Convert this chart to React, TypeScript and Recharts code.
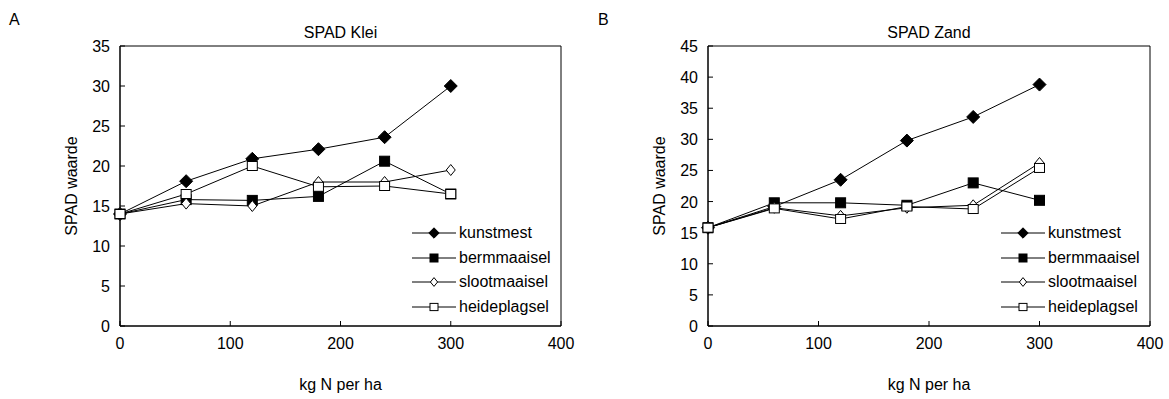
import React from "react";
import { LineChart, Line, XAxis, YAxis, ReferenceArea } from "recharts";

// ─── data ────────────────────────────────────────────────────────────────────

const doses = [0, 60, 120, 180, 240, 300];
const seriesNames = ["kunstmest", "bermmaaisel", "slootmaaisel", "heideplagsel"];

const kleiKunstmest = [14, 18.1, 20.9, 22.1, 23.6, 30];
const kleiBermmaaisel = [14, 15.8, 15.7, 16.2, 20.6, 16.5];
const kleiSlootmaaisel = [14, 15.3, 15.0, 18.0, 18.0, 19.5];
const kleiHeideplagsel = [14, 16.5, 20.0, 17.4, 17.5, 16.5];

const zandKunstmest = [15.8, 19.2, 23.5, 29.8, 33.6, 38.8];
const zandBermmaaisel = [15.8, 19.8, 19.8, 19.4, 23.0, 20.2];
const zandSlootmaaisel = [15.8, 19.0, 17.7, 19.0, 19.4, 26.2];
const zandHeideplagsel = [15.8, 18.9, 17.2, 19.2, 18.8, 25.4];

const xTicks = [0, 100, 200, 300, 400];
const kleiTicks = [0, 5, 10, 15, 20, 25, 30, 35];
const zandTicks = [0, 5, 10, 15, 20, 25, 30, 35, 40, 45];

const FONT = "'Liberation Sans', Arial, sans-serif";
const FS = 16;

function buildRows(a: number[], b: number[], c: number[], d: number[]) {
  return doses.map((x, i) => ({ x, s0: a[i], s1: b[i], s2: c[i], s3: d[i] }));
}

// ─── markers ─────────────────────────────────────────────────────────────────

function marker(kind: number, cx: number, cy: number, s = 1, key?: string | number) {
  if (kind === 0) {
    const r = 6.5 * s;
    return <polygon key={key} points={`${cx},${cy - r} ${cx + r},${cy} ${cx},${cy + r} ${cx - r},${cy}`} fill="#000" stroke="#000" />;
  }
  if (kind === 1) {
    const r = 5 * s;
    return <rect key={key} x={cx - r} y={cy - r} width={2 * r} height={2 * r} fill="#000" stroke="#000" />;
  }
  if (kind === 2) {
    const w = 4.5 * s;
    const h = 5.5 * s;
    return <polygon key={key} points={`${cx},${cy - h} ${cx + w},${cy} ${cx},${cy + h} ${cx - w},${cy}`} fill="#fff" stroke="#000" />;
  }
  const w = 5 * s;
  const h = 4.5 * s;
  return <rect key={key} x={cx - w} y={cy - h} width={2 * w} height={2 * h} fill="#fff" stroke="#000" />;
}

const dotFor = (kind: number) => (p: any) => marker(kind, p.cx, p.cy, 1, `${kind}-${p.index}`);

// ─── ticks (marks point inwards, labels outside) ─────────────────────────────

const YTick = (p: any) => (
  <g>
    <line x1={p.x + 10} x2={p.x + 15} y1={p.y} y2={p.y} stroke="#000" />
    <text x={p.x} y={p.y + 6} textAnchor="end" fontSize={FS} fontFamily={FONT} fill="#000">
      {p.payload.value}
    </text>
  </g>
);

const XTick = (p: any) => (
  <g>
    <line x1={p.x} x2={p.x} y1={p.y - 10} y2={p.y - 15} stroke="#000" />
    <text x={p.x} y={p.y + 13} textAnchor="middle" fontSize={FS} fontFamily={FONT} fill="#000">
      {p.payload.value}
    </text>
  </g>
);

const LegendBox = ({ left, top }: { left: number; top: number }) => (
  <div style={{ position: "absolute", left, top, fontFamily: FONT, fontSize: FS, color: "#000" }}>
    {seriesNames.map((n, i) => (
      <div key={n} style={{ display: "flex", alignItems: "center", height: 24.5 }}>
        <svg width={45} height={16} style={{ display: "block" }}>
          <line x1={0} x2={44} y1={8} y2={8} stroke="#000" />
          {marker(i, 22, 8, 0.8)}
        </svg>
        <span style={{ marginLeft: 2, lineHeight: "16px" }}>{n}</span>
      </div>
    ))}
  </div>
);

// ─── panel ───────────────────────────────────────────────────────────────────

interface PanelProps {
  title: string;
  rows: ReturnType<typeof buildRows>;
  yMax: number;
  yTicks: number[];
  width: number;
  left: number;
  right: number;
}

const TOP = 46;
const BOTTOM = 73;
const H = 399;

function Panel({ title, rows, yMax, yTicks, width, left, right }: PanelProps) {
  const plotW = width - left - right;
  const plotH = H - TOP - BOTTOM;
  const text: React.CSSProperties = { position: "absolute", fontFamily: FONT, color: "#000" };
  return (
    <div style={{ position: "relative", width, height: H }}>
      <LineChart width={width} height={H} data={rows} margin={{ top: TOP, left: 0, right, bottom: 0 }}>
        <XAxis
          dataKey="x"
          type="number"
          domain={[0, 400]}
          ticks={xTicks}
          height={BOTTOM}
          tickSize={0}
          tickMargin={10}
          tick={<XTick />}
          axisLine={{ stroke: "#000" }}
          tickLine={false}
          interval={0}
        />
        <YAxis
          type="number"
          domain={[0, yMax]}
          ticks={yTicks}
          width={left}
          tickSize={0}
          tickMargin={10}
          tick={<YTick />}
          axisLine={{ stroke: "#000" }}
          tickLine={false}
          interval={0}
        />
        <ReferenceArea x1={0} x2={400} y1={0} y2={yMax} fill="none" stroke="#000" strokeOpacity={1} />
        {[0, 1, 2, 3].map((k) => (
          <Line
            key={k}
            dataKey={`s${k}`}
            name={seriesNames[k]}
            stroke="#000"
            strokeWidth={1}
            dot={dotFor(k)}
            activeDot={false}
            isAnimationActive={false}
          />
        ))}
      </LineChart>
      <div style={{ ...text, top: 24, left, width: plotW, textAlign: "center", fontSize: FS }}>{title}</div>
      <div style={{ ...text, top: 376, left, width: plotW, textAlign: "center", fontSize: FS }}>kg N per ha</div>
      <div
        style={{
          ...text,
          fontSize: FS,
          left: left - 48 - 60,
          top: TOP + plotH / 2 - 9,
          width: 120,
          textAlign: "center",
          transform: "rotate(-90deg)",
        }}
      >
        SPAD waarde
      </div>
      <LegendBox left={left + plotW - 149} top={221} />
    </div>
  );
}

export default function App() {
  return (
    <div style={{ position: "absolute", left: 0, top: 0, width: 1169, height: 399, background: "#fff" }}>
      <div style={{ position: "absolute", left: 9, top: 11, fontFamily: FONT, fontSize: FS }}>A</div>
      <div style={{ position: "absolute", left: 598, top: 11, fontFamily: FONT, fontSize: FS }}>B</div>
      <div style={{ position: "absolute", left: 0, top: 0 }}>
        <Panel
          title="SPAD Klei"
          rows={buildRows(kleiKunstmest, kleiBermmaaisel, kleiSlootmaaisel, kleiHeideplagsel)}
          yMax={35}
          yTicks={kleiTicks}
          width={590}
          left={120}
          right={29}
        />
      </div>
      <div style={{ position: "absolute", left: 590, top: 0 }}>
        <Panel
          title="SPAD Zand"
          rows={buildRows(zandKunstmest, zandBermmaaisel, zandSlootmaaisel, zandHeideplagsel)}
          yMax={45}
          yTicks={zandTicks}
          width={579}
          left={118}
          right={19}
        />
      </div>
    </div>
  );
}
